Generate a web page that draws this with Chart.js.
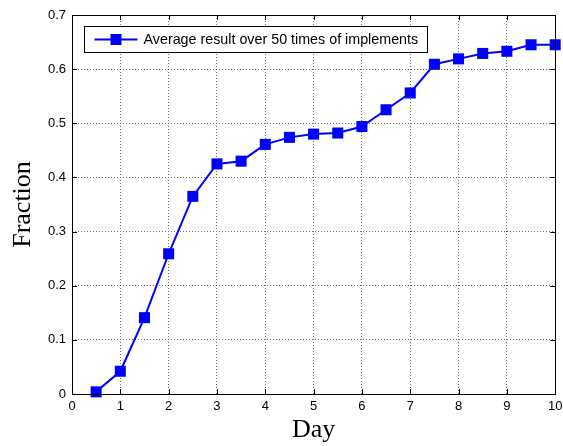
<!DOCTYPE html>
<html>
<head>
<meta charset="utf-8">
<script src="https://cdn.jsdelivr.net/npm/chart.js@4/dist/chart.umd.min.js"></script>
<style>
  body { margin: 0; background: #fff; }
  canvas { display: block; }
</style>
</head>
<body>
<canvas id="myChart" width="563" height="446"></canvas>
<script>
const days = [0.5, 1, 1.5, 2, 2.5, 3, 3.5, 4, 4.5, 5, 5.5, 6, 6.5, 7, 7.5, 8, 8.5, 9, 9.5, 10];
const fraction = [0.004, 0.042, 0.141, 0.259, 0.365, 0.425, 0.430, 0.461, 0.474, 0.480,
                  0.482, 0.494, 0.525, 0.556, 0.609, 0.619, 0.629, 0.633, 0.645, 0.645];
const xTicks = [0, 1, 2, 3, 4, 5, 6, 7, 8, 9, 10];
const yTicks = [0, 0.1, 0.2, 0.3, 0.4, 0.5, 0.6, 0.7];
const seriesLabel = 'Average result over 50 times of implements';

const blue = '#0000ff';
const tickFont = { family: 'Liberation Sans', size: 13 };
const titleFont = { family: 'Liberation Serif', size: 26 };

// matlab style box, inner ticks and legend
const boxPlugin = {
    id: 'box',
    afterDatasetsDraw(chart) {
        const { ctx, chartArea: a, scales } = chart;
        ctx.save();
        ctx.strokeStyle = '#000';
        ctx.lineWidth = 1;
        ctx.beginPath();
        xTicks.forEach(v => {
            const px = Math.round(scales.x.getPixelForValue(v)) + 0.5;
            ctx.moveTo(px, a.bottom); ctx.lineTo(px, a.bottom - 5);
            ctx.moveTo(px, a.top); ctx.lineTo(px, a.top + 5);
        });
        yTicks.forEach(v => {
            const py = Math.round(scales.y.getPixelForValue(v)) + 0.5;
            ctx.moveTo(a.left, py); ctx.lineTo(a.left + 5, py);
            ctx.moveTo(a.right, py); ctx.lineTo(a.right - 5, py);
        });
        ctx.stroke();
        ctx.strokeRect(Math.round(a.left) + 0.5, Math.round(a.top) + 0.5,
            Math.round(a.right - a.left), Math.round(a.bottom - a.top));

        // legend
        const lx = a.left + 12.5, ly = a.top + 11.5, lw = 343, lh = 26;
        ctx.fillStyle = '#fff';
        ctx.fillRect(lx, ly, lw, lh);
        ctx.strokeRect(lx, ly, lw, lh);
        const cy = ly + lh / 2;
        ctx.strokeStyle = blue;
        ctx.lineWidth = 2;
        ctx.beginPath();
        ctx.moveTo(lx + 10, cy); ctx.lineTo(lx + 53, cy);
        ctx.stroke();
        ctx.fillStyle = blue;
        ctx.fillRect(lx + 26, cy - 5.5, 11, 11);
        ctx.fillStyle = '#000';
        ctx.font = '14.3px "Liberation Sans"';
        ctx.textBaseline = 'middle';
        ctx.fillText(chart.data.datasets[0].label, lx + 59, cy + 1);
        ctx.restore();
    }
};

new Chart(document.getElementById('myChart'), {
    type: 'line',
    data: {
        datasets: [{
            label: seriesLabel,
            data: days.map((d, i) => ({ x: d, y: fraction[i] })),
            borderColor: blue,
            backgroundColor: blue,
            borderWidth: 2,
            pointStyle: 'rect',
            pointRadius: 7.8,
            pointBorderWidth: 0,
            pointBackgroundColor: blue,
            pointHoverRadius: 7.8,
            tension: 0,
            clip: false
        }]
    },
    options: {
        responsive: false,
        animation: false,
        events: [],
        layout: { padding: { top: 15, right: 6, left: 0, bottom: 0 } },
        plugins: {
            legend: { display: false },
            tooltip: { enabled: false }
        },
        scales: {
            x: {
                type: 'linear',
                min: 0,
                max: 10,
                afterBuildTicks: s => { s.ticks = xTicks.map(v => ({ value: v })); },
                afterFit: s => { s.height = 52; s.paddingLeft = 0; s.paddingRight = 0; },
                ticks: { color: '#000', font: tickFont, padding: 5, maxRotation: 0, autoSkip: false },
                grid: { color: '#707070', lineWidth: 1, drawTicks: false },
                border: { display: false, dash: [1, 2] },
                title: { display: true, text: 'Day', color: '#000', font: titleFont, padding: { top: 0, bottom: 0 } }
            },
            y: {
                min: 0,
                max: 0.7,
                afterBuildTicks: s => { s.ticks = yTicks.map(v => ({ value: v })); },
                afterFit: s => { s.width = 72; },
                ticks: { color: '#000', font: tickFont, padding: 6 },
                grid: { color: '#707070', lineWidth: 1, drawTicks: false },
                border: { display: false, dash: [1, 2] },
                title: { display: true, text: 'Fraction', color: '#000', font: titleFont, padding: { top: 8, bottom: 0 } }
            }
        }
    },
    plugins: [boxPlugin]
});
</script>
</body>
</html>
